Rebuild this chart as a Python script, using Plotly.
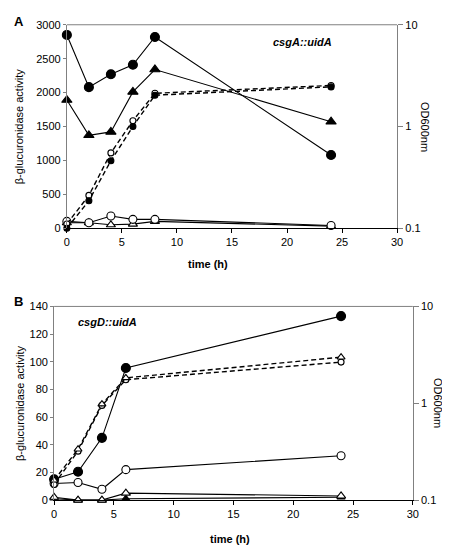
import plotly.graph_objects as go

# ---------------- data ----------------
time_a = [0, 2, 4, 6, 8, 24]
a_filled_circle_act = [2850, 2080, 2270, 2410, 2820, 1080]
a_filled_tri_act = [1890, 1370, 1420, 2010, 2340, 1570]
a_open_circle_act = [100, 80, 180, 130, 130, 40]
a_open_tri_act = [80, 80, 50, 60, 100, 30]
a_open_circle_od = [0.11, 0.21, 0.55, 1.14, 2.12, 2.53]
a_filled_circle_od = [0.10, 0.186, 0.46, 1.0, 2.03, 2.45]

time_b = [0, 2, 4, 6, 24]
b_filled_circle_act = [15, 20.5, 45, 95.5, 133]
b_open_circle_act = [12, 12.7, 7.8, 22, 32]
b_open_tri_act = [2, 0, 0, 5, 3]
b_filled_tri_act = [1, 0, 0, 1, 2]
b_open_tri_od = [0.16, 0.335, 0.98, 1.83, 2.99]
b_open_circle_od = [0.145, 0.32, 0.95, 1.75, 2.66]

x_ticks = [0, 5, 10, 15, 20, 25, 30]
a_left_ticks = [0, 500, 1000, 1500, 2000, 2500, 3000]
b_left_ticks = [0, 20, 40, 60, 80, 100, 120, 140]
od_ticks = [0.1, 1, 10]

W, H = 450, 546
FONT = "Liberation Sans, Arial, sans-serif"

fig = go.Figure()


def add(x, y, xa, ya, symbol, fill, size, dash="solid", width=1.1):
    fig.add_trace(go.Scatter(
        x=x, y=y, xaxis=xa, yaxis=ya, mode="lines+markers",
        line=dict(color="black", width=width, dash=dash),
        marker=dict(symbol=symbol, size=size, color=fill,
                    line=dict(color="black", width=1.1)),
        cliponaxis=False, showlegend=False))


# Panel A
add(time_a, a_open_circle_od, "x", "y2", "circle", "white", 6, "5px,3px", 1.4)
add(time_a, a_filled_circle_od, "x", "y2", "circle", "black", 6, "5px,3px", 1.4)
add(time_a, a_open_tri_act, "x", "y", "triangle-up", "white", 8)
add(time_a, a_open_circle_act, "x", "y", "circle", "white", 8)
add(time_a, a_filled_tri_act, "x", "y", "triangle-up", "black", 9)
add(time_a, a_filled_circle_act, "x", "y", "circle", "black", 9)

# Panel B
add(time_b, b_open_circle_od, "x2", "y4", "circle", "white", 6, "5px,3px", 1.4)
add(time_b, b_open_tri_od, "x2", "y4", "triangle-up", "white", 7, "5px,3px", 1.4)
add(time_b, b_filled_tri_act, "x2", "y3", "triangle-up", "black", 7)
add(time_b, b_open_tri_act, "x2", "y3", "triangle-up", "white", 8)
add(time_b, b_open_circle_act, "x2", "y3", "circle", "white", 8)
add(time_b, b_filled_circle_act, "x2", "y3", "circle", "black", 9)


def px_x(p):
    return p / W


def px_y(p):
    return 1 - p / H


tickfont = dict(family=FONT, size=11, color="black")
xa_dom = [px_x(57), px_x(394)]
ya_dom = [px_y(219), px_y(11)]
xb_dom = [px_x(44), px_x(410)]
yb_dom = [px_y(497), px_y(299)]

common_x = dict(range=[0, 30], tickvals=x_ticks, showgrid=False, zeroline=False,
                showline=True, linecolor="black", linewidth=1, ticks="outside",
                ticklen=4, tickcolor="black", tickfont=tickfont)
common_yl = dict(showgrid=False, zeroline=False, showline=True, linecolor="#808080",
                 linewidth=1, ticks="outside", ticklen=3, tickcolor="#808080",
                 tickfont=tickfont)
common_yr = dict(type="log", range=[-1, 1], tickvals=od_ticks, ticktext=["0.1", "1", "10"],
                 side="right", showgrid=False, zeroline=False, showline=True,
                 linecolor="#808080", linewidth=1, ticks="outside", ticklen=5,
                 tickcolor="#808080", tickfont=tickfont)

fig.update_layout(
    width=W, height=H, margin=dict(l=0, r=0, t=0, b=0),
    paper_bgcolor="white", plot_bgcolor="white",
    xaxis=dict(domain=xa_dom, anchor="y", **common_x),
    yaxis=dict(domain=ya_dom, anchor="x", range=[0, 3000], tickvals=a_left_ticks, **common_yl),
    yaxis2=dict(overlaying="y", anchor="x", **common_yr),
    xaxis2=dict(domain=xb_dom, anchor="y3", **common_x),
    yaxis3=dict(domain=yb_dom, anchor="x2", range=[0, 140], tickvals=b_left_ticks, **common_yl),
    yaxis4=dict(overlaying="y3", anchor="x2", **common_yr),
)

# top border lines
fig.add_shape(type="line", xref="x domain", yref="y domain", x0=0, x1=1, y0=1, y1=1,
              line=dict(color="#808080", width=1))
fig.add_shape(type="line", xref="x2 domain", yref="y3 domain", x0=0, x1=1, y0=1, y1=1,
              line=dict(color="#808080", width=1))

ann = []


def text(x, y, s, size=11, angle=0, bold=False, italic=False, xanchor="center"):
    if bold:
        s = "<b>" + s + "</b>"
    if italic:
        s = "<i>" + s + "</i>"
    ann.append(dict(x=px_x(x), y=px_y(y), xref="paper", yref="paper", text=s,
                    showarrow=False, textangle=angle, xanchor=xanchor, yanchor="middle",
                    font=dict(family=FONT, size=size, color="black")))


text(8, 8, "A", 13, bold=True)
text(8, 294, "B", 13, bold=True)
text(9, 115, "β-glucuronidase activity", 11, angle=-90)
text(9, 398, "β-glucuronidase activity", 11, angle=-90)
text(422, 115, "OD600nm", 11, angle=90)
text(435, 398, "OD600nm", 11, angle=90)
text(201, 256, "time (h)", 11, bold=True)
text(223, 537, "time (h)", 11, bold=True)
text(297, 29, "csgA::uidA", 11, bold=True, italic=True)
text(98, 315, "csgD::uidA", 11, bold=True, italic=True)
fig.update_layout(annotations=ann)

fig.write_html("out.html")
